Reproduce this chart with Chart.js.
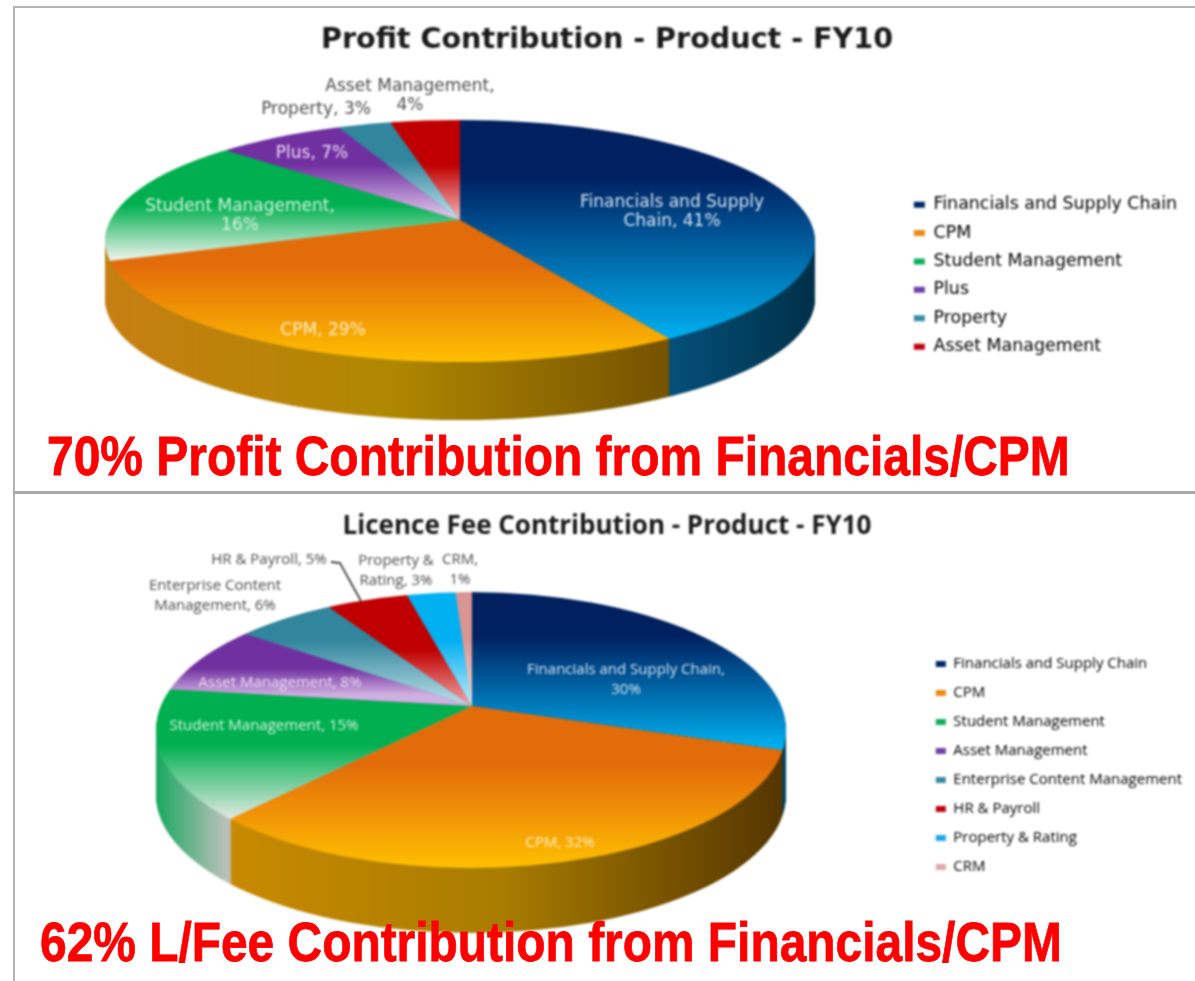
<!DOCTYPE html>
<html>
<head>
<meta charset="utf-8">
<title>Profit and Licence Fee Contribution</title>
<script src="https://cdn.jsdelivr.net/npm/chart.js@4/dist/chart.umd.min.js"></script>
<style>
html, body { margin: 0; padding: 0; background: #fff; overflow: hidden; width: 1195px; height: 981px; }
canvas { position: absolute; left: 14px; filter: blur(0.8px); }
#profitChart { top: 0; }
#licenceChart { top: 495px; }
.rule { position: absolute; background: #b4b4b4; }
.caption { position: absolute; color: #ff0000; font: bold 56px "Liberation Sans", Arial, sans-serif; white-space: nowrap; transform-origin: left top; line-height: 1; -webkit-text-stroke: 0.8px #ff0000; }
</style>
</head>
<body>
<canvas id="profitChart" width="1186" height="490"></canvas>
<canvas id="licenceChart" width="1186" height="486"></canvas>
<div class="rule" style="left:13px;top:6px;width:1182px;height:2px"></div>
<div class="rule" style="left:13px;top:6px;width:2px;height:975px"></div>
<div class="rule" style="left:13px;top:491px;width:1182px;height:3px;background:#a8a8a8"></div>
<div class="caption" id="cap1" style="left:47px;top:428px">70% Profit Contribution from Financials/CPM</div>
<div class="caption" id="cap2" style="left:40px;top:914px">62% L/Fee Contribution from Financials/CPM</div>
<script>
// Top chart data
const profitCategories = ['Financials and Supply Chain', 'CPM', 'Student Management', 'Plus', 'Property', 'Asset Management'];
const profitValues = [41, 29, 16, 7, 3, 4];

// Bottom chart data
const licenceCategories = ['Financials and Supply Chain', 'CPM', 'Student Management', 'Asset Management', 'Enterprise Content Management', 'HR & Payroll', 'Property & Rating', 'CRM'];
const licenceValues = [30, 32, 15, 8, 6, 5, 3, 1];

// Slice look: [page y where gradient starts, y where it turns, y where it ends, dark colour, light colour]
const profitFaces = [
    [120, 175, 338, '#002060', '#00b0f0'],
    [220, 265, 362, '#e36c0a', '#ffc000'],
    [153, 205, 257, '#00b050', '#e4f0e6'],
    [127, 165, 220, '#7030a0', '#e6d2f0'],
    [122, 160, 220, '#31859c', '#c4e4ee'],
    [120, 165, 220, '#c00000', '#f4b8b8']
];
const licenceFaces = [
    [592, 635, 747, '#002060', '#00b0f0'],
    [706, 765, 868, '#e36c0a', '#ffc000'],
    [690, 745, 817, '#00b050', '#dce8e0'],
    [635, 668, 695, '#7030a0', '#d0b0e0'],
    [606, 640, 706, '#31859c', '#bfe2ec'],
    [598, 650, 706, '#c00000', '#f4a8a8'],
    [593, 640, 706, '#00b0f0', '#c4ecfa'],
    [592, 640, 706, '#d99694', '#f2dcdb']
];

// Side wall look: [page x from, page x to, colours...]
const profitWalls = [
    [668, 815, '#05507a', '#003048'],
    [107, 668, '#c67f12', '#b08800', '#755300'],
    [100, 110, '#c67f12', '#c67f12'],
    [100, 110, '#7030a0', '#7030a0'],
    [100, 110, '#31859c', '#31859c'],
    [100, 110, '#c00000', '#c00000']
];
const licenceWalls = [
    [770, 790, '#004060', '#004060'],
    [224, 785, '#c98a00', '#a87c00', '#543500'],
    [157, 224, '#1aa860', '#b8c0b8'],
    [100, 110, '#7030a0', '#7030a0'],
    [100, 110, '#31859c', '#31859c'],
    [100, 110, '#c00000', '#c00000'],
    [100, 110, '#00b0f0', '#00b0f0'],
    [100, 110, '#d99694', '#d99694']
];

const profitLegendColours = ['#002a6a', '#e88a10', '#10ad60', '#7040a8', '#3a8ca4', '#c00010'];
const licenceLegendColours = ['#002a6a', '#e88a10', '#10ad60', '#7040a8', '#3a8ca4', '#c00010', '#20a8e8', '#e0a8a8'];

// Data label placing, page px: [centre x, first line y, wrap width, colour]
const outside = '#4c4c4c';
const profitLabels = [
    [672, 203, 200, '#d6e4f2'],
    [323, 331, 200, '#ffeec4'],
    [240, 207, 205, '#d8f2e0'],
    [312, 154, 120, '#ecdcf4'],
    [316, 110, 140, outside],
    [410, 87, 190, outside]
];
const licenceLabels = [
    [626, 670, 205, '#d6e4f2'],
    [560, 843, 120, '#ffeec4'],
    [264, 726, 200, '#d8f2e0'],
    [280, 683, 190, '#ecdcf4'],
    [215, 586, 145, outside],
    [269, 560, 130, outside],
    [396, 561, 90, outside],
    [460, 560, 45, outside]
];

// ratio is how wide the slices fan out, the ellipse only trims them
const profitShape = { top: 0, apexX: 460, apexY: 220, cx: 460, cy: 241, rx: 355, ry: 121, depth: 58, ratio: 2.78 };
const licenceShape = { top: 495, apexX: 472, apexY: 706, cx: 471, cy: 730, rx: 315, ry: 138, depth: 65, ratio: 2.28 };
const canvasLeft = 14;

function arcScale(shape, R) {
    let off = Math.abs(shape.cy - shape.apexY);
    let sy = (shape.ry + off + 2) / R;
    return { sx: sy * shape.ratio, sy: sy };
}

function sliceGradient(context, faces, legendColours) {
    let chart = context.chart, area = chart.chartArea, i = context.dataIndex;
    if (!area) return legendColours[i];
    let shape = chart.options.plugins.tiltedPie.shape;
    let R = Math.min(area.width, area.height) / 2;
    let cy = (area.top + area.bottom) / 2;
    let s = arcScale(shape, R);
    let f = faces[i];
    let y0 = cy + (f[0] - shape.apexY) / s.sy;
    let y2 = cy + (f[2] - shape.apexY) / s.sy;
    let g = chart.ctx.createLinearGradient(0, y0, 0, y2);
    g.addColorStop(0, f[3]);
    g.addColorStop((f[1] - f[0]) / (f[2] - f[0]), f[3]);
    g.addColorStop(1, f[4]);
    return g;
}

// Pulls the flat pie into the tilted shape and paints the wall under it
const tiltedPie = {
    id: 'tiltedPie',
    beforeDatasetDraw(chart, args, opts) {
        let ctx = chart.ctx, shape = opts.shape;
        let arcs = args.meta.data;
        let R = arcs[0].outerRadius, ax = arcs[0].x, ay = arcs[0].y;
        let s = arcScale(shape, R);

        let walls = opts.walls.map(w => {
            let g = ctx.createLinearGradient(ax + (w[0] - shape.apexX) / s.sx, 0, ax + (w[1] - shape.apexX) / s.sx, 0);
            let cols = w.slice(2);
            cols.forEach((c, n) => g.addColorStop(n / (cols.length - 1), c));
            return g;
        });

        for (let d = shape.depth; d >= 1; d--) {
            ctx.save();
            ctx.translate(-canvasLeft, -shape.top + d);
            ctx.beginPath();
            ctx.ellipse(shape.cx, shape.cy, shape.rx, shape.ry, 0, 0, Math.PI * 2);
            ctx.clip();
            ctx.translate(shape.apexX, shape.apexY);
            ctx.scale(s.sx, s.sy);
            ctx.translate(-ax, -ay);
            arcs.forEach((arc, i) => {
                ctx.fillStyle = walls[i];
                ctx.beginPath();
                ctx.moveTo(ax, ay);
                ctx.arc(ax, ay, R, arc.startAngle, arc.endAngle);
                ctx.closePath();
                ctx.fill();
            });
            ctx.restore();
        }

        ctx.save();
        ctx.translate(-canvasLeft, -shape.top);
        ctx.beginPath();
        ctx.ellipse(shape.cx, shape.cy, shape.rx, shape.ry, 0, 0, Math.PI * 2);
        ctx.clip();
        ctx.translate(shape.apexX, shape.apexY);
        ctx.scale(s.sx, s.sy);
        ctx.translate(-ax, -ay);
    },
    afterDatasetDraw(chart) {
        chart.ctx.restore();
    },
    afterDatasetsDraw(chart, args, opts) {
        let ctx = chart.ctx, shape = opts.shape;
        let labels = chart.data.labels, values = chart.data.datasets[0].data;
        ctx.save();
        ctx.translate(-canvasLeft, -shape.top);
        ctx.font = opts.labelFont;
        ctx.textAlign = 'center';
        ctx.textBaseline = 'middle';
        opts.labels.forEach((l, i) => {
            let words = (labels[i] + ', ' + values[i] + '%').split(' ');
            let lines = [], line = '';
            words.forEach(w => {
                let next = line ? line + ' ' + w : w;
                if (ctx.measureText(next).width > l[2] && line) {
                    lines.push(line);
                    line = w;
                } else {
                    line = next;
                }
            });
            lines.push(line);
            ctx.fillStyle = l[3];
            lines.forEach((t, n) => ctx.fillText(t, l[0], l[1] + n * opts.lineGap));
        });
        if (opts.leader) {
            ctx.strokeStyle = '#404040';
            ctx.lineWidth = 1.8;
            ctx.beginPath();
            opts.leader.forEach((p, n) => n ? ctx.lineTo(p[0], p[1]) : ctx.moveTo(p[0], p[1]));
            ctx.stroke();
        }
        ctx.restore();
    }
};

function makeChart(id, categories, values, faces, walls, legendColours, labels, shape, style) {
    return new Chart(document.getElementById(id), {
        type: 'pie',
        data: {
            labels: categories,
            datasets: [{
                data: values,
                borderWidth: 0,
                clip: false,
                backgroundColor: c => sliceGradient(c, faces, legendColours)
            }]
        },
        plugins: [tiltedPie],
        options: {
            responsive: false,
            animation: false,
            layout: { padding: style.padding },
            plugins: {
                tooltip: { enabled: false },
                title: {
                    display: true,
                    text: style.title,
                    color: '#1a1a1a',
                    font: style.titleFont,
                    padding: style.titlePadding
                },
                legend: {
                    position: 'right',
                    fullSize: false,
                    labels: {
                        color: '#484848',
                        font: style.legendFont,
                        boxWidth: style.legendBox,
                        boxHeight: 6,
                        padding: style.legendGap,
                        generateLabels: chart => chart.data.labels.map((t, i) => ({
                            text: t,
                            fillStyle: legendColours[i],
                            strokeStyle: legendColours[i],
                            lineWidth: 0,
                            index: i
                        }))
                    }
                },
                tiltedPie: {
                    shape: shape,
                    walls: walls,
                    labels: labels,
                    labelFont: style.labelFont,
                    lineGap: style.lineGap,
                    leader: style.leader
                }
            }
        }
    });
}

makeChart('profitChart', profitCategories, profitValues, profitFaces, profitWalls, profitLegendColours, profitLabels, profitShape, {
    title: 'Profit Contribution - Product - FY10',
    titleFont: { family: 'DejaVu Sans', size: 28.6, weight: 'bold' },
    titlePadding: { top: 23, bottom: 8 },
    legendFont: { family: 'DejaVu Sans', size: 17.4 },
    legendGap: 11,
    legendBox: 11,
    labelFont: '17px "DejaVu Sans"',
    lineGap: 19,
    padding: { left: 13, right: 13, bottom: 4 }
});

makeChart('licenceChart', licenceCategories, licenceValues, licenceFaces, licenceWalls, licenceLegendColours, licenceLabels, licenceShape, {
    title: 'Licence Fee Contribution - Product - FY10',
    titleFont: { family: 'Open Sans', size: 26, weight: 'bold' },
    titlePadding: { top: 16, bottom: 8 },
    legendFont: { family: 'Open Sans', size: 15 },
    legendGap: 14,
    legendBox: 10,
    labelFont: '15px "Open Sans"',
    lineGap: 20,
    leader: [[331, 562], [340, 563], [361, 601]],
    padding: { left: 8, right: 8, bottom: 0 }
});

// The captions are stretched a little to the width they have in the picture
function fitCaption(id, width) {
    let el = document.getElementById(id);
    el.style.transform = 'scaleX(' + width / el.offsetWidth + ')';
}
fitCaption('cap1', 1023);
fitCaption('cap2', 1022);
</script>
</body>
</html>
